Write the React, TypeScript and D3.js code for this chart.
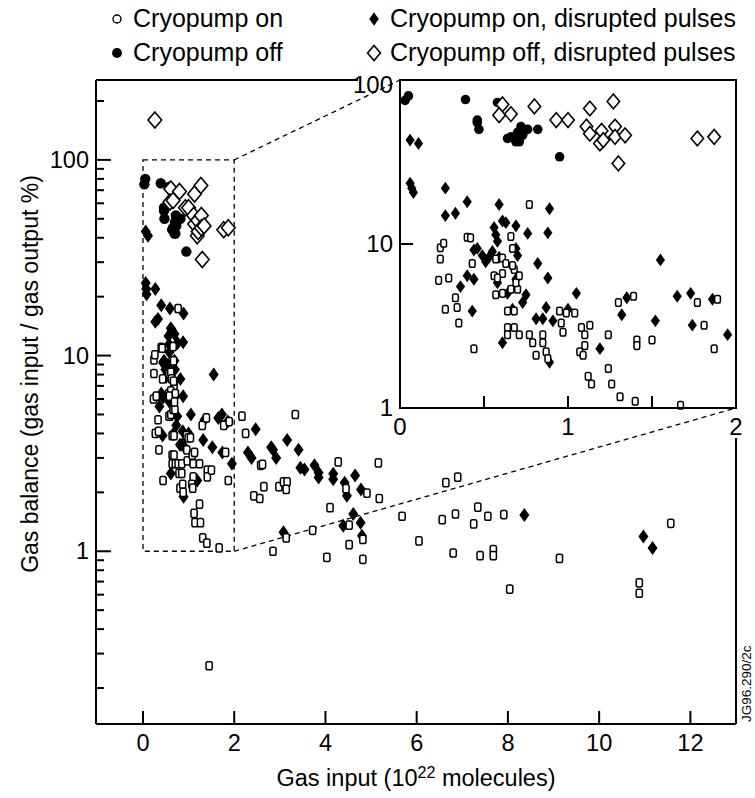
import React from 'react';
import * as d3 from 'd3';

// gas input (1e22 molecules), gas balance (%)
const cryoOn: [number, number][] = [
  [0.77, 17.4], [0.24, 9.5], [0.26, 10.1], [0.24, 8.1], [0.23, 6.0], [0.29, 6.2], [0.33, 4.7],
  [0.27, 4.0], [0.34, 4.1], [0.35, 3.3], [0.40, 11.0], [0.42, 10.9], [0.43, 7.6], [0.57, 8.1],
  [0.61, 8.2], [0.63, 7.6], [0.68, 7.0], [0.66, 11.1], [0.67, 9.4], [0.56, 6.4], [0.61, 6.6],
  [0.57, 4.9], [0.61, 5.0], [0.66, 5.3], [0.70, 5.3], [0.58, 6.2], [0.64, 3.9], [0.68, 3.9],
  [0.64, 3.1], [0.68, 3.1], [0.44, 2.3], [0.64, 2.8], [0.71, 2.8], [0.77, 2.8], [0.79, 2.5],
  [0.81, 2.1], [0.85, 2.8], [0.85, 2.5], [0.87, 2.2], [0.88, 2.0], [0.95, 3.9], [0.99, 3.8],
  [1.04, 3.8], [0.96, 3.3], [0.97, 2.9], [1.08, 3.1], [1.13, 3.2], [1.10, 2.8], [1.10, 2.4],
  [1.07, 2.2], [1.09, 2.1], [1.24, 2.8], [1.30, 4.4], [1.39, 4.8], [1.41, 2.6], [1.41, 2.4],
  [1.50, 2.6], [1.12, 1.56], [1.14, 1.40], [1.24, 1.74], [1.26, 1.40], [1.31, 1.17], [1.40, 1.10],
  [1.67, 1.04], [1.77, 4.4], [1.81, 3.2], [1.89, 4.6], [1.87, 2.3], [0.67, 7.4], [0.69, 5.8],
  [0.71, 6.4], [1.45, 0.26],
  [2.17, 4.9], [3.34, 5.0], [2.25, 4.0], [2.58, 2.75], [2.62, 2.78], [2.65, 2.14], [2.98, 2.14],
  [3.08, 2.26], [3.16, 2.26], [3.14, 2.07], [2.43, 1.92], [2.56, 1.86], [4.28, 2.86], [5.16, 2.83],
  [4.45, 2.09], [4.91, 1.98], [5.18, 1.86], [4.10, 1.67], [3.72, 1.28], [3.14, 1.17], [2.85, 1.0],
  [4.03, 0.93], [4.52, 1.08], [4.52, 1.36], [4.82, 0.91], [4.82, 1.15], [5.68, 1.51], [6.05, 1.13],
  [6.64, 2.24], [6.90, 2.39], [6.56, 1.45], [6.85, 1.55], [7.34, 1.68], [7.25, 1.38], [7.56, 1.51],
  [7.91, 1.54], [6.80, 0.98], [7.39, 0.95], [7.68, 1.02], [7.68, 0.95], [8.04, 0.64], [9.13, 0.92],
  [10.88, 0.69], [10.88, 0.61], [11.57, 1.39],
];

const cryoOff: [number, number][] = [
  [0.39, 76], [0.58, 73], [0.46, 57], [0.46, 55], [0.47, 50], [0.64, 44], [0.66, 45], [0.68, 44],
  [0.69, 42], [0.71, 42], [0.73, 46], [0.74, 49], [0.76, 50], [0.82, 50], [0.95, 34], [0.03, 75],
  [0.05, 80], [0.70, 48], [0.72, 52],
];

const cryoOnDisrupted: [number, number][] = [
  [0.06, 43], [0.11, 41], [0.06, 23.5], [0.07, 21.9], [0.08, 20.6], [0.27, 21.9], [0.40, 18.1],
  [0.59, 17.4], [0.27, 14.9], [0.33, 15.4], [0.89, 16.4], [0.56, 12.6], [0.57, 11.4], [0.58, 10.4],
  [0.61, 13.8], [0.63, 13.5], [0.69, 12.9], [0.76, 11.6], [0.88, 11.7], [0.46, 9.4], [0.44, 9.2],
  [0.49, 8.5], [0.51, 7.8], [0.53, 8.3], [0.55, 9.0], [0.59, 8.3], [0.69, 9.4], [0.70, 8.5],
  [0.40, 6.4], [0.44, 6.1], [0.36, 5.5], [0.43, 3.9], [0.58, 5.8], [0.64, 5.0], [0.69, 6.1],
  [0.75, 4.9], [0.67, 4.0], [0.73, 4.4], [0.82, 7.6], [0.88, 6.2], [1.05, 5.0], [0.87, 4.1],
  [0.81, 3.5], [0.85, 3.5], [0.91, 3.4], [1.00, 4.0], [0.61, 2.5], [0.89, 1.9], [1.19, 2.3],
  [1.32, 3.7], [1.35, 4.7], [1.52, 3.4], [1.55, 8.0], [1.65, 4.8], [1.73, 5.0], [1.74, 3.2],
  [1.86, 4.6], [1.95, 2.8],
  [2.47, 4.2], [2.30, 3.2], [2.38, 3.0], [2.81, 3.4], [2.85, 3.3], [2.92, 3.0], [3.16, 3.7],
  [3.41, 3.3], [3.45, 2.67], [3.54, 2.62], [3.76, 2.75], [3.85, 2.52], [3.85, 2.38], [4.17, 2.49],
  [4.17, 2.33], [4.42, 2.24], [4.47, 1.92], [4.65, 2.44], [4.78, 2.07], [4.61, 1.55], [4.39, 1.35],
  [4.77, 1.40], [4.80, 1.20], [3.08, 1.25], [8.36, 1.53], [10.97, 1.19], [11.17, 1.04],
];

const cryoOffDisrupted: [number, number][] = [
  [0.61, 71], [0.59, 61], [0.66, 62], [0.80, 69], [0.93, 57], [1.00, 57], [1.13, 67], [1.27, 74],
  [1.11, 52], [1.13, 47], [1.20, 49], [1.19, 41], [1.21, 43], [1.28, 52], [1.28, 45], [1.34, 46],
  [1.30, 31], [1.77, 44], [1.87, 45], [0.26, 160],
];

const xTicks = [0, 2, 4, 6, 8, 10, 12];
const yLabels = [1, 10, 100];
const insetXTicks = [0.5, 1, 1.5];
const insetXLabels = [0, 1, 2];
const insetYLabels = [1, 10, 100];

const legendItems = [
  { label: 'Cryopump on', kind: 'ring', col: 0, row: 0 },
  { label: 'Cryopump off', kind: 'dot', col: 0, row: 1 },
  { label: 'Cryopump on, disrupted pulses', kind: 'diamond', col: 1, row: 0 },
  { label: 'Cryopump off, disrupted pulses', kind: 'odiamond', col: 1, row: 1 },
];

const FONT = '"Liberation Sans", Arial, Helvetica, sans-serif';

const marker = (kind: string, cx: number, cy: number, key: string | number, s = 1) => {
  if (kind === 'square')
    return <rect key={key} x={cx - 3.1 * s} y={cy - 4.1 * s} width={6.2 * s} height={8.2 * s} rx={1.8}
      fill="#fff" stroke="#000" strokeWidth={1.5} />;
  if (kind === 'ring')
    return <circle key={key} cx={cx} cy={cy} r={4} fill="#fff" stroke="#000" strokeWidth={1.4} />;
  if (kind === 'dot')
    return <circle key={key} cx={cx} cy={cy} r={5.2 * s} fill="#000" />;
  const w = kind === 'diamond' ? 5 * s : 6.8 * s;
  const h = kind === 'diamond' ? 7 * s : 8 * s;
  const d = `M${cx},${cy - h}L${cx + w},${cy}L${cx},${cy + h}L${cx - w},${cy}Z`;
  return kind === 'diamond'
    ? <path key={key} d={d} fill="#000" />
    : <path key={key} d={d} fill="#fff" stroke="#000" strokeWidth={1.6} />;
};

const series: { kind: string; data: [number, number][] }[] = [
  { kind: 'diamond', data: cryoOnDisrupted },
  { kind: 'dot', data: cryoOff },
  { kind: 'square', data: cryoOn },
  { kind: 'odiamond', data: cryoOffDisrupted },
];

export default function App() {
  const W = 755, H = 798;
  const left = 96, right = 736, top = 80, bottom = 724;
  const x = d3.scaleLinear().domain([-1.03, 13]).range([left, right]);
  const y = d3.scaleLog().domain([0.131, 256]).range([bottom, top]);

  const iL = 400, iR = 736, iT = 80, iB = 408;
  const xi = d3.scaleLinear().domain([0, 2]).range([iL, iR]);
  const yi = d3.scaleLog().domain([1, 100]).range([iB, iT]);

  const minor: number[] = [];
  [0.1, 1, 10, 100].forEach(dec => {
    for (let m = 2; m <= 9; m++) {
      const v = m * dec;
      if (v > 0.131 && v < 256) minor.push(v);
    }
  });

  const dash = '5,4';

  return (
    <svg width={W} height={H} style={{ position: 'absolute', left: 0, top: 0, background: '#fff' }}
      fontFamily={FONT}>
      <rect width={W} height={H} fill="#fff" />

      {/* legend */}
      {legendItems.map((it, i) => {
        const mx = it.col === 0 ? 117 : 374;
        const ty = it.row === 0 ? 27 : 61;
        return (
          <g key={i}>
            {marker(it.kind, mx, ty - 8, 'm' + i, 0.95)}
            <text x={mx + 16} y={ty} fontSize={25}>{it.label}</text>
          </g>
        );
      })}

      {/* main frame */}
      <g stroke="#000" strokeWidth={2} fill="none">
        <line x1={left} y1={top} x2={left} y2={bottom} />
        <line x1={left} y1={bottom} x2={right} y2={bottom} />
        <line x1={left} y1={top} x2={358} y2={top} />
        <line x1={right} y1={438} x2={right} y2={bottom} />
      </g>

      {/* main ticks */}
      <g stroke="#000" strokeWidth={2}>
        {xTicks.map(t => <line key={'xt' + t} x1={x(t)} x2={x(t)} y1={bottom} y2={bottom - 13} />)}
        {yLabels.map(t => <line key={'yt' + t} x1={left} x2={left + 15} y1={y(t)} y2={y(t)} />)}
        {minor.map(t => <line key={'ym' + t} x1={left} x2={left + 8} y1={y(t)} y2={y(t)} />)}
      </g>
      {xTicks.map(t => (
        <text key={'xl' + t} x={x(t)} y={751} fontSize={23.5} textAnchor="middle">{t}</text>
      ))}
      {yLabels.map(t => (
        <text key={'yl' + t} x={89} y={y(t)} dy="0.35em" fontSize={23.5} textAnchor="end">{t}</text>
      ))}

      <text x={416} y={786} fontSize={23.5} textAnchor="middle">
        Gas input (10<tspan dy={-8} fontSize={16}>22</tspan><tspan dy={8}> molecules)</tspan>
      </text>
      <text transform={`translate(38,${(top + bottom) / 2 - 28}) rotate(-90)`} fontSize={23}
        textAnchor="middle">Gas balance (gas input / gas output %)</text>

      <text transform={`translate(751,${bottom - 2}) rotate(-90)`} fontSize={13.5}>JG96.290/2c</text>

      {/* zoom box and connectors */}
      <g stroke="#000" strokeWidth={1.3} strokeDasharray={dash} fill="none">
        <rect x={x(0)} y={y(100)} width={x(2) - x(0)} height={y(1) - y(100)} />
        <line x1={x(2)} y1={y(100)} x2={iL} y2={iT} />
        <line x1={x(2)} y1={y(1)} x2={iR} y2={iB} />
      </g>

      {/* main points */}
      {series.map(s => (
        <g key={s.kind}>
          {s.data.map((d, i) => marker(s.kind, x(d[0]), y(d[1]), s.kind + i))}
        </g>
      ))}

      {/* inset */}
      <rect x={iL} y={iT} width={iR - iL} height={iB - iT} fill="#fff" />
      {series.map(s => (
        <g key={'in' + s.kind}>
          {s.data.filter(d => d[0] >= 0 && d[0] <= 2 && d[1] >= 0.98 && d[1] <= 105)
            .map((d, i) => marker(s.kind, xi(d[0]), yi(d[1]), 'in' + s.kind + i, 0.92))}
        </g>
      ))}
      <rect x={iL} y={iT} width={iR - iL} height={iB - iT} fill="none" stroke="#000" strokeWidth={2} />
      <g stroke="#000" strokeWidth={2}>
        {insetXTicks.map(t => <line key={'ixt' + t} x1={xi(t)} x2={xi(t)} y1={iB} y2={iB - 12} />)}
        <line x1={iL} x2={iL + 13} y1={yi(10)} y2={yi(10)} />
      </g>
      {insetXLabels.map(t => (
        <text key={'ixl' + t} x={xi(t)} y={435} fontSize={24} textAnchor="middle">{t}</text>
      ))}
      {insetYLabels.map(t => (
        <text key={'iyl' + t} x={393} y={t === 100 ? yi(t) + 5 : yi(t)} dy="0.35em" fontSize={24}
          textAnchor="end">{t}</text>
      ))}
    </svg>
  );
}
